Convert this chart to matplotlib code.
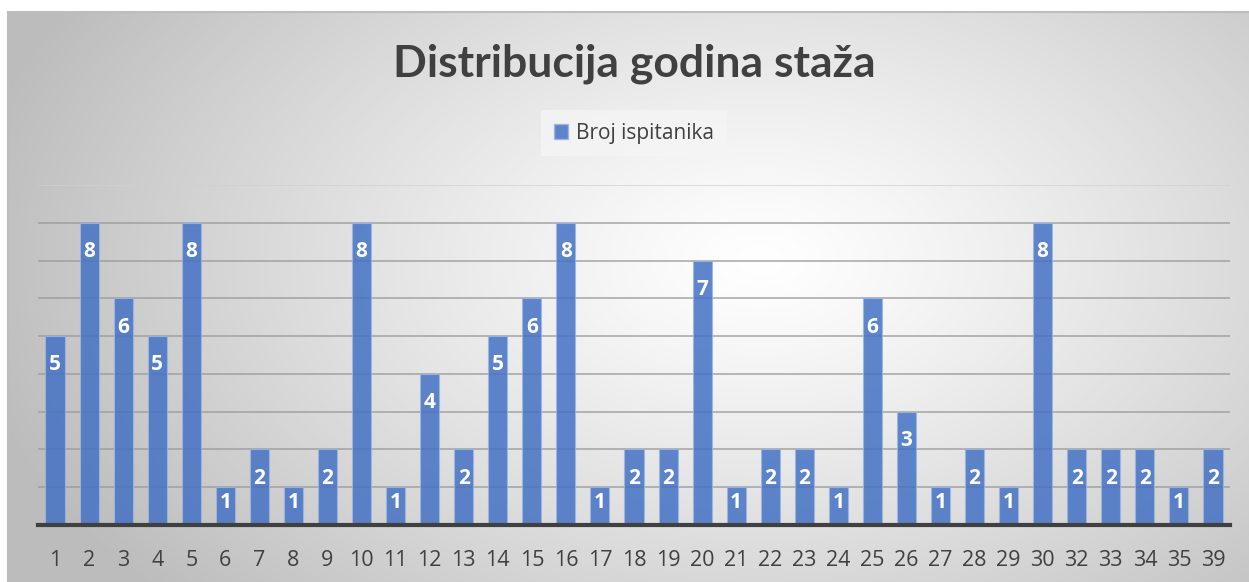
import numpy as np
import matplotlib
matplotlib.use("Agg")
import matplotlib.pyplot as plt
from matplotlib.patches import Patch

categories = ["1", "2", "3", "4", "5", "6", "7", "8", "9", "10", "11", "12", "13", "14", "15",
              "16", "17", "18", "19", "20", "21", "22", "23", "24", "25", "26", "27", "28", "29",
              "30", "32", "33", "34", "35", "39"]
values = [5, 8, 6, 5, 8, 1, 2, 1, 2, 8, 1, 4, 2, 5, 6,
          8, 1, 2, 2, 7, 1, 2, 2, 1, 6, 3, 1, 2, 1,
          8, 2, 2, 2, 1, 2]
title = "Distribucija godina staža"
series_name = "Broj ispitanika"

W, H = 1249, 582
plt.rcParams['font.family'] = ['Open Sans', 'DejaVu Sans']
fig = plt.figure(figsize=(W / 100, H / 100), dpi=100)

# background gradient
bg = fig.add_axes([0, 0, 1, 1], zorder=-10)
yy, xx = np.mgrid[0:H, 0:W]
cx, cy = 760, 260
r = np.sqrt(((xx - cx) / 800.0) ** 2 + ((yy - cy) / 500.0) ** 2)
r = np.clip(r, 0, 1)
val = 1.0 - 0.26 * r ** 1.2
img = np.dstack([val, val, val])
img[:12, :, :] = 1.0
img[:, :8, :] = 1.0
bg.imshow(img, extent=[0, W, H, 0], aspect='auto', interpolation='bilinear')
bg.plot([8, W], [12, 12], color='#bdbdbd', lw=1.5)
bg.plot([8, 8], [12, H], color='#bdbdbd', lw=1.5)
bg.set_xlim(0, W)
bg.set_ylim(H, 0)
bg.axis('off')

ax = fig.add_axes([38 / W, 1 - 525 / H, (1230 - 38) / W, (525 - 185) / H])
ax.patch.set_alpha(0)
x = np.arange(len(categories))
bars = ax.bar(x, values, width=0.56, color='#4472C4', alpha=0.85,
              edgecolor='#9db5e3', linewidth=0.8, zorder=3)
ax.set_xlim(-0.5, len(categories) - 0.5)
ax.set_ylim(0, 9)
for g in range(1, 10):
    ax.axhline(g, color='#9a9a9a' if g < 9 else '#d0d0d0', lw=1.3, zorder=1,
               alpha=0.75)
for xi, v in zip(x, values):
    off = 0.76 if v >= 2 else 0.40
    ax.text(xi, v - off, str(v), ha='center', va='center', color='white',
            fontsize=15, fontweight='bold', zorder=5)

for s in ['top', 'right', 'left']:
    ax.spines[s].set_visible(False)
ax.spines['bottom'].set_color('#404040')
ax.spines['bottom'].set_linewidth(3)
ax.spines['bottom'].set_zorder(6)
ax.set_yticks([])
ax.set_xticks(x)
ax.set_xticklabels(categories, fontsize=15.5, color='#404040')
ax.tick_params(axis='x', length=0, pad=18)

fig.text(634 / W, 1 - 64 / H, title, ha='center', va='center', fontsize=32,
         fontweight='bold', color='#404040', family=['Lato', 'DejaVu Sans'])

leg = fig.legend(handles=[Patch(facecolor='#4472C4', alpha=0.85, edgecolor='#9db5e3')],
                 labels=[series_name], loc='center', bbox_to_anchor=(634 / W, 1 - 133 / H),
                 fontsize=15, frameon=True, fancybox=False, handlelength=0.7,
                 handleheight=0.7, handletextpad=0.4, borderpad=0.6)
leg.get_frame().set_facecolor('#f5f5f5')
leg.get_frame().set_edgecolor('none')
for t in leg.get_texts():
    t.set_color('#404040')

fig.savefig('out.png', dpi=100)
